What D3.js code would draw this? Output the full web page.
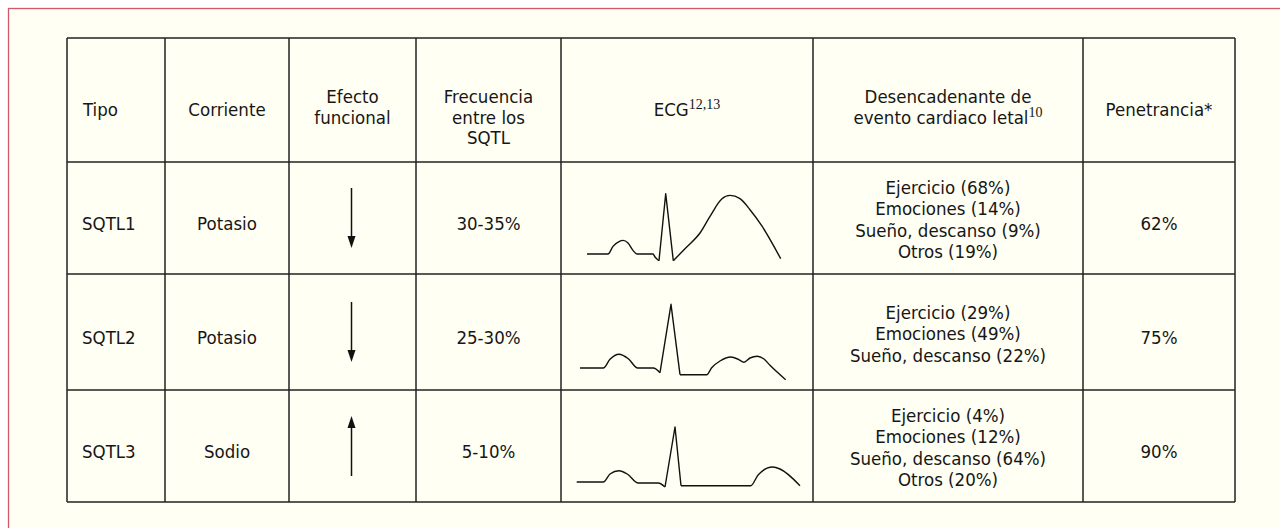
<!DOCTYPE html>
<html lang="es">
<head>
<meta charset="UTF-8">
<title>SQTL tabla</title>
<script src="https://d3js.org/d3.v7.min.js"></script>
<style>
  html, body { margin: 0; padding: 0; background: #ffffff; overflow: hidden; }
  svg { display: block; }
  .cell-text { font-family: "DejaVu Sans Condensed", "Liberation Sans Narrow", sans-serif; font-size: 18.5px; fill: #161616; }
  .sup { font-family: "Liberation Serif", "DejaVu Serif", serif; font-size: 14px; }
</style>
</head>
<body>
<div id="chart"></div>
<script>
// Data
const headers = [
  ["Tipo"],
  ["Corriente"],
  ["Efecto", "funcional"],
  ["Frecuencia", "entre los", "SQTL"],
  ["ECG"],
  ["Desencadenante de", "evento cardiaco letal"],
  ["Penetrancia*"]
];
const headerSup = [null, null, null, null, "12,13", "10", null];

const types = ["SQTL1", "SQTL2", "SQTL3"];
const currents = ["Potasio", "Potasio", "Sodio"];
const effects = ["down", "down", "up"];
const frequencies = ["30-35%", "25-30%", "5-10%"];
const triggers = [
  ["Ejercicio (68%)", "Emociones (14%)", "Sueño, descanso (9%)", "Otros (19%)"],
  ["Ejercicio (29%)", "Emociones (49%)", "Sueño, descanso (22%)"],
  ["Ejercicio (4%)", "Emociones (12%)", "Sueño, descanso (64%)", "Otros (20%)"]
];
const penetrance = ["62%", "75%", "90%"];

// ECG traces, [time, amplitude],
// split into P wave (smooth), QRS (sharp) and ST-T (smooth)
const ecgP = [
  [[26,0],[47,0],[52,7.6],[58,12.3],[62,13.6],[67,11],[72,3.6],[76,0],[92,0],[94,-3],[98,-6.7]],
  [[19,0],[42.3,0],[49,8.7],[58,13.7],[67.3,9.3],[76.7,0],[92.3,0],[99,-4.7]],
  [[15.7,0],[42.3,0],[49,8],[58,11.3],[66.3,8],[77.3,-1],[97.3,-1],[104,-5]]
];
const ecgQRS = [
  [[98,-6.7],[104.7,60.3],[112.3,-6.7]],
  [[99,-4.7],[110,63.7],[119,-6.7]],
  [[104,-5],[114,55],[120,-3.7]]
];
const ecgT = [
  [[112.3,-6.7],[125.7,7],[139,21],[149,37.6],[160.7,55],[169,58.6],[179,55.3],[189,44.3],[200.7,28.3],[219.7,-4.7]],
  [[119,-6.7],[145.7,-6.7],[150.7,0.3],[159,7],[169.7,11],[177.3,8.7],[183,5.7],[189,10],[196.3,11.7],[203,9],[209,2.7],[224.7,-11.7]],
  [[120,-3.7],[189.7,-3.7],[197.3,7.3],[211.7,15],[219,13],[239,-3.7]]
];

// Layout
const width = 1280, height = 528;
const colEdges = [67, 165, 289, 416, 561, 813, 1083, 1235];
const rowEdges = [38, 162, 274, 390, 502];
const lineColor = "#222";

const svg = d3.select("#chart").append("svg")
  .attr("width", width).attr("height", height);

// Panel background + red frame (open to the right and bottom)
svg.append("rect")
  .attr("x", 8.5).attr("y", 8.5)
  .attr("width", 1300).attr("height", 600)
  .attr("fill", "#fffff3")
  .attr("stroke", "#d0586b").attr("stroke-width", 1.3);

const colMid = i => (colEdges[i] + colEdges[i + 1]) / 2;
const rowMid = i => (rowEdges[i] + rowEdges[i + 1]) / 2;

// Grid
const grid = svg.append("g");
grid.selectAll("line.h").data(rowEdges).join("line")
  .attr("x1", colEdges[0]).attr("x2", colEdges[colEdges.length - 1])
  .attr("y1", d => d).attr("y2", d => d)
  .attr("stroke", lineColor).attr("stroke-width", 1.5);
grid.selectAll("line.v").data(colEdges).join("line")
  .attr("y1", rowEdges[0]).attr("y2", rowEdges[rowEdges.length - 1])
  .attr("x1", d => d).attr("x2", d => d)
  .attr("stroke", lineColor).attr("stroke-width", 1.5);

// Header
const headG = svg.append("g");
headers.forEach((lines, i) => {
  const multi = lines.length > 1;
  const y0 = multi ? 103 : 116;
  const x = i === 0 ? colEdges[0] + 16 : colMid(i);
  const t = headG.append("text")
    .attr("class", "cell-text")
    .attr("text-anchor", i === 0 ? "start" : "middle");
  lines.forEach((ln, k) => {
    t.append("tspan").attr("x", x).attr("y", y0 + k * 20.5).text(ln);
    if (headerSup[i] && k === lines.length - 1) {
      t.append("tspan").attr("class", "sup").attr("dy", -7).text(headerSup[i]);
    }
  });
});

// Body text helper
function cellText(col, row, lines, anchor) {
  const lh = 21.5;
  const y0 = lines.length > 1 ? rowMid(row) - (lines.length - 1) / 2 * lh + 8 : rowMid(row) + 12;
  const x = anchor === "start" ? colEdges[col] + 15 : colMid(col);
  const t = svg.append("text").attr("class", "cell-text").attr("text-anchor", anchor || "middle");
  t.selectAll("tspan").data(lines).join("tspan")
    .attr("x", x).attr("y", (d, k) => y0 + k * lh).text(d => d);
}

types.forEach((d, r) => cellText(0, r + 1, [d], "start"));
currents.forEach((d, r) => cellText(1, r + 1, [d]));
frequencies.forEach((d, r) => cellText(3, r + 1, [d]));
triggers.forEach((d, r) => cellText(5, r + 1, d));
penetrance.forEach((d, r) => cellText(6, r + 1, [d]));

// Arrows (functional effect)
const arrowG = svg.append("g");
effects.forEach((dir, r) => {
  const x = colMid(2) - 1;
  const c = rowMid(r + 1);
  const top = c - 30, bot = c + 30;
  const tipY = dir === "down" ? bot : top;
  const tailY = dir === "down" ? top : bot;
  const s = dir === "down" ? -1 : 1;
  arrowG.append("line")
    .attr("x1", x).attr("x2", x)
    .attr("y1", tailY).attr("y2", tipY + s * 8)
    .attr("stroke", "#111").attr("stroke-width", 1.5);
  arrowG.append("path")
    .attr("d", d3.line()([[x, tipY], [x - 4, tipY + s * 12], [x + 4, tipY + s * 12]]) + "Z")
    .attr("fill", "#111");
});

// ECG traces
const ecgG = svg.append("g")
  .attr("fill", "none").attr("stroke", "#111")
  .attr("stroke-width", 1.4).attr("stroke-linejoin", "round");
const xEcg = d3.scaleLinear().domain([0, 252]).range([colEdges[4], colEdges[5]]);
[0, 1, 2].forEach(r => {
  const base = rowMid(r + 1) + 36;
  const y = d3.scaleLinear().domain([0, 60]).range([base, base - 60]);
  const smooth = d3.line().x(d => xEcg(d[0])).y(d => y(d[1])).curve(d3.curveMonotoneX);
  const sharp = d3.line().x(d => xEcg(d[0])).y(d => y(d[1])).curve(d3.curveLinear);
  ecgG.append("path").attr("d", smooth(ecgP[r]));
  ecgG.append("path").attr("d", sharp(ecgQRS[r]));
  ecgG.append("path").attr("d", smooth(ecgT[r]));
});
</script>
</body>
</html>
